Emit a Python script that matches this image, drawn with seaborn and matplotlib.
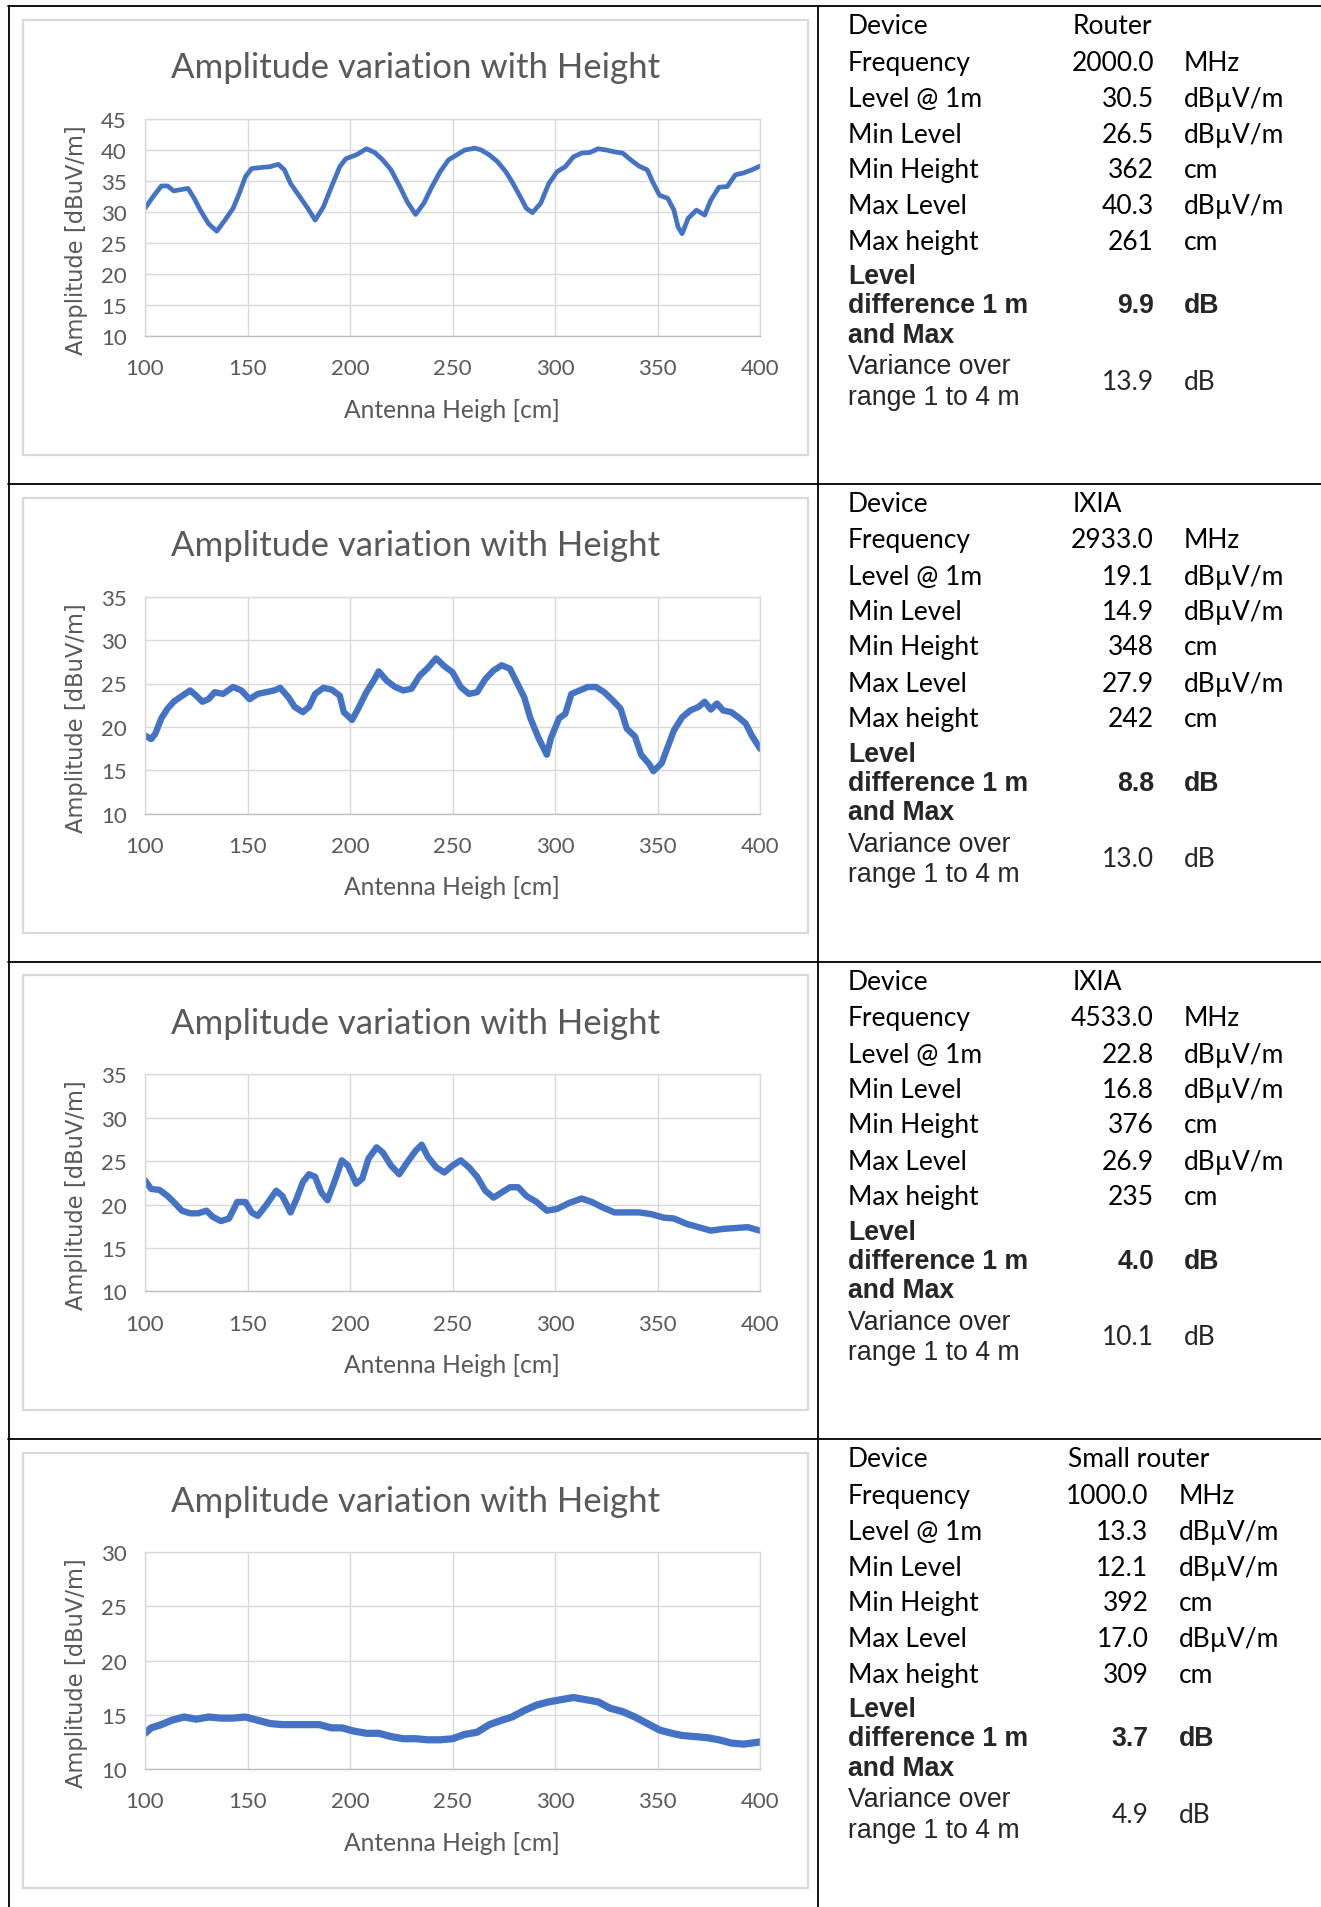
import matplotlib
matplotlib.use('Agg')
import matplotlib.pyplot as plt
import seaborn as sns
from matplotlib.patches import Rectangle
from matplotlib.lines import Line2D

W, H = 1321, 1908

# ---- chart data ----
h1 = [100, 104, 108, 111, 114, 119, 121, 124, 127, 131,
      135, 139, 143, 146, 149, 152, 157, 161, 165, 168,
      171, 175, 179, 183, 187, 191, 195, 198, 203, 208,
      212, 216, 220, 224, 228, 232, 236, 240, 244, 248,
      252, 256, 261, 264, 268, 272, 276, 279, 283, 286,
      289, 293, 297, 301, 305, 309, 313, 317, 321, 325,
      329, 333, 337, 341, 345, 348, 351, 355, 358, 360,
      362, 365, 369, 373, 376, 380, 384, 388, 392, 396,
      400]
a1 = [30.6, 32.5, 34.2, 34.2, 33.4, 33.7, 33.8, 32.2, 30.3, 28.1,
      26.9, 28.7, 30.6, 33.0, 35.7, 37.0, 37.2, 37.3, 37.7, 36.8,
      34.6, 32.7, 30.8, 28.7, 30.8, 34.1, 37.3, 38.6, 39.2, 40.2,
      39.6, 38.4, 36.8, 34.3, 31.6, 29.6, 31.4, 34.1, 36.5, 38.4,
      39.2, 40.0, 40.3, 40.0, 39.2, 38.1, 36.5, 34.9, 32.5, 30.6,
      29.9, 31.4, 34.6, 36.5, 37.3, 38.9, 39.5, 39.6, 40.2, 40.0,
      39.7, 39.5, 38.4, 37.4, 36.8, 34.6, 32.7, 32.2, 30.3, 27.6,
      26.5, 29.0, 30.3, 29.5, 31.9, 34.0, 34.1, 36.0, 36.3, 36.8,
      37.4]

h2 = [100, 103, 105, 108, 111, 114, 117, 122, 125, 128,
      131, 134, 138, 143, 147, 151, 155, 159, 163, 166,
      170, 173, 177, 180, 183, 187, 191, 195, 197, 201,
      204, 208, 212, 214, 218, 222, 226, 230, 234, 238,
      242, 246, 250, 254, 258, 262, 266, 270, 274, 278,
      281, 285, 288, 292, 296, 298, 302, 305, 308, 312,
      316, 320, 324, 328, 332, 335, 339, 342, 346, 348,
      352, 355, 358, 362, 366, 370, 373, 376, 379, 382,
      386, 390, 393, 396, 400]
a2 = [19.0, 18.6, 19.2, 21.0, 22.1, 22.9, 23.4, 24.2, 23.6, 22.9,
      23.2, 24.0, 23.8, 24.6, 24.2, 23.2, 23.8, 24.0, 24.2, 24.5,
      23.4, 22.3, 21.7, 22.3, 23.8, 24.5, 24.3, 23.6, 21.7, 20.8,
      22.1, 24.0, 25.5, 26.4, 25.3, 24.6, 24.2, 24.4, 25.9, 26.8,
      27.9, 27.0, 26.3, 24.6, 23.8, 24.0, 25.5, 26.5, 27.1, 26.7,
      25.3, 23.4, 21.0, 18.7, 16.8, 18.7, 21.0, 21.5, 23.8, 24.2,
      24.6, 24.6, 24.0, 23.1, 22.1, 19.8, 18.9, 16.8, 15.7, 14.9,
      15.8, 17.7, 19.6, 21.1, 21.9, 22.3, 22.9, 22.0, 22.7, 21.9,
      21.7, 21.0, 20.4, 19.0, 17.5]

h3 = [100, 103, 107, 111, 114, 118, 122, 126, 130, 133,
      137, 141, 145, 149, 152, 155, 159, 164, 167, 171,
      174, 177, 180, 183, 186, 189, 193, 196, 199, 203,
      206, 209, 213, 216, 220, 224, 228, 232, 235, 238,
      242, 246, 250, 254, 258, 262, 266, 270, 274, 278,
      282, 286, 291, 296, 301, 307, 313, 318, 323, 329,
      335, 341, 347, 353, 358, 364, 370, 376, 382, 388,
      394, 400]
a3 = [22.8, 21.8, 21.7, 21.0, 20.3, 19.3, 19.0, 19.0, 19.3, 18.6,
      18.1, 18.4, 20.3, 20.3, 19.1, 18.7, 19.9, 21.6, 21.0, 19.1,
      20.7, 22.6, 23.5, 23.2, 21.4, 20.5, 23.0, 25.1, 24.5, 22.4,
      23.0, 25.3, 26.6, 26.0, 24.5, 23.5, 24.9, 26.2, 26.9, 25.5,
      24.3, 23.7, 24.5, 25.1, 24.3, 23.2, 21.6, 20.8, 21.4, 22.0,
      22.0, 21.0, 20.3, 19.3, 19.5, 20.2, 20.7, 20.3, 19.7, 19.1,
      19.1, 19.1, 18.9, 18.5, 18.4, 17.8, 17.4, 17.0, 17.2, 17.3,
      17.4, 17.0]

h4 = [100, 103, 108, 113, 119, 125, 131, 137, 143, 149,
      155, 161, 167, 173, 179, 185, 191, 196, 202, 208,
      214, 220, 226, 232, 238, 244, 250, 256, 262, 268,
      274, 279, 285, 291, 297, 303, 309, 315, 321, 327,
      333, 339, 345, 351, 357, 362, 368, 374, 380, 386,
      392, 400]
a4 = [13.3, 13.8, 14.1, 14.5, 14.8, 14.6, 14.8, 14.7, 14.7, 14.8,
      14.5, 14.2, 14.1, 14.1, 14.1, 14.1, 13.8, 13.8, 13.5, 13.3,
      13.3, 13.0, 12.8, 12.8, 12.7, 12.7, 12.8, 13.2, 13.4, 14.1,
      14.5, 14.8, 15.4, 15.9, 16.2, 16.4, 16.6, 16.4, 16.2, 15.6,
      15.3, 14.8, 14.2, 13.6, 13.3, 13.1, 13.0, 12.9, 12.7, 12.4,
      12.3, 12.5]

y_max = [45, 35, 35, 30]
x_ticks = [100, 150, 200, 250, 300, 350, 400]

# ---- table data ----
devices = ['Router', 'IXIA', 'IXIA', 'Small router']
freqs = ['2000.0', '2933.0', '4533.0', '1000.0']
level_1m = ['30.5', '19.1', '22.8', '13.3']
min_level = ['26.5', '14.9', '16.8', '12.1']
min_height = ['362', '348', '376', '392']
max_level = ['40.3', '27.9', '26.9', '17.0']
max_height = ['261', '242', '235', '309']
level_diff = ['9.9', '8.8', '4.0', '3.7']
variance = ['13.9', '13.0', '10.1', '4.9']

row_names = ['Device', 'Frequency', 'Level @ 1m', 'Min Level', 'Min Height',
             'Max Level', 'Max height']
row_units = ['', 'MHz', 'dB\u00b5V/m', 'dB\u00b5V/m', 'cm', 'dB\u00b5V/m', 'cm']

sns.set_style('white')
plt.rcParams['font.family'] = ['Lato', 'DejaVu Sans']

fig = plt.figure(figsize=(W / 100, H / 100), dpi=100)
fig.patch.set_facecolor('white')

GRAY = '#595959'
GRID = '#d9d9d9'
BLUE = '#4472c4'
ROW = 477.7


def fx(x):
    return x / W


def fy(y):
    return 1 - y / H


def draw_chart(i, h, a, lw):
    dy = i * ROW
    fig.add_artist(Rectangle((fx(23), fy(456 + dy)), fx(808) - fx(23), 435 / H,
                             transform=fig.transFigure, fill=False,
                             edgecolor=GRID, lw=1.6))
    ax = fig.add_axes([fx(145), fy(337 + dy), (760 - 145) / W, 217 / H])
    sns.lineplot(x=h, y=a, ax=ax, color=BLUE, linewidth=lw)
    ax.set_xlim(100, 400)
    ax.set_ylim(10, y_max[i])
    ax.set_xticks(x_ticks)
    ax.set_yticks(range(10, y_max[i] + 1, 5))
    ax.grid(True, color=GRID, lw=1)
    for s in ax.spines.values():
        s.set_color(GRID)
        s.set_linewidth(1)
    ax.spines['bottom'].set_color('#bfbfbf')
    ax.tick_params(length=0, labelsize=16, colors=GRAY)
    ax.tick_params(axis='x', pad=16)
    ax.tick_params(axis='y', pad=13)
    ax.set_xlabel('')
    ax.set_ylabel('')
    fig.text(fx(416), fy(68.5 + dy), 'Amplitude variation with Height',
             ha='center', va='center', fontsize=25, color=GRAY)
    fig.text(fx(452), fy(410 + dy), 'Antenna Heigh [cm]',
             ha='center', va='center', fontsize=17.7, color=GRAY)
    fig.text(fx(77), fy(240 + dy), 'Amplitude [dBuV/m]', rotation=90,
             ha='center', va='center', fontsize=16.3, color=GRAY,
             family='DejaVu Sans')


def draw_table(i, shift):
    dy = i * ROW + 1.2
    xl, xv, xd, xu = 848, 1154 + shift, 1073 + shift, 1184 + shift
    ys = [25.5, 62, 98.5, 134, 169, 205.5, 241]
    vals = [devices[i], freqs[i], level_1m[i], min_level[i], min_height[i],
            max_level[i], max_height[i]]
    for k, y in enumerate(ys):
        fig.text(fx(xl), fy(y + dy), row_names[k], ha='left', va='center',
                 fontsize=19, color='black')
        if k == 0:
            fig.text(fx(xd), fy(y + dy), vals[k], ha='left', va='center',
                     fontsize=19, color='black')
        else:
            fig.text(fx(xv), fy(y + dy), vals[k], ha='right', va='center',
                     fontsize=19, color='black')
            fig.text(fx(xu), fy(y + dy), row_units[k], ha='left', va='center',
                     fontsize=19, color='black')
    arial = 'Liberation Sans'
    for txt, y in [('Level', 276), ('difference 1 m', 305), ('and Max', 334.5)]:
        fig.text(fx(xl), fy(y + dy), txt, ha='left', va='center', fontsize=19.2,
                 weight='bold', family=arial)
    fig.text(fx(xv), fy(305 + dy), level_diff[i], ha='right', va='center',
             fontsize=19.2, weight='bold', family=arial)
    fig.text(fx(xu), fy(305 + dy), 'dB', ha='left', va='center', fontsize=19.2,
             weight='bold', family=arial)
    for txt, y in [('Variance over', 366), ('range 1 to 4 m', 396.5)]:
        fig.text(fx(xl), fy(y + dy), txt, ha='left', va='center', fontsize=19.2,
                 family=arial)
    fig.text(fx(xv), fy(381 + dy), variance[i], ha='right', va='center',
             fontsize=19)
    fig.text(fx(xu), fy(381 + dy), 'dB', ha='left', va='center', fontsize=19)


# table grid lines
for i in range(4):
    y = 7.3 + i * ROW
    fig.add_artist(Line2D([fx(7.5), 1], [fy(y), fy(y)], color='black', lw=1.3))
for x in [8.5, 817.5]:
    fig.add_artist(Line2D([fx(x), fx(x)], [fy(6.5), 0], color='black', lw=1.3))

series = [(h1, a1, 3.4), (h2, a2, 4.6), (h3, a3, 4.6), (h4, a4, 5.2)]
shifts = [0, 0, 0, -5.5]
for i, (h, a, lw) in enumerate(series):
    draw_chart(i, h, a, lw)
    draw_table(i, shifts[i])

fig.savefig('out.png', dpi=100)
